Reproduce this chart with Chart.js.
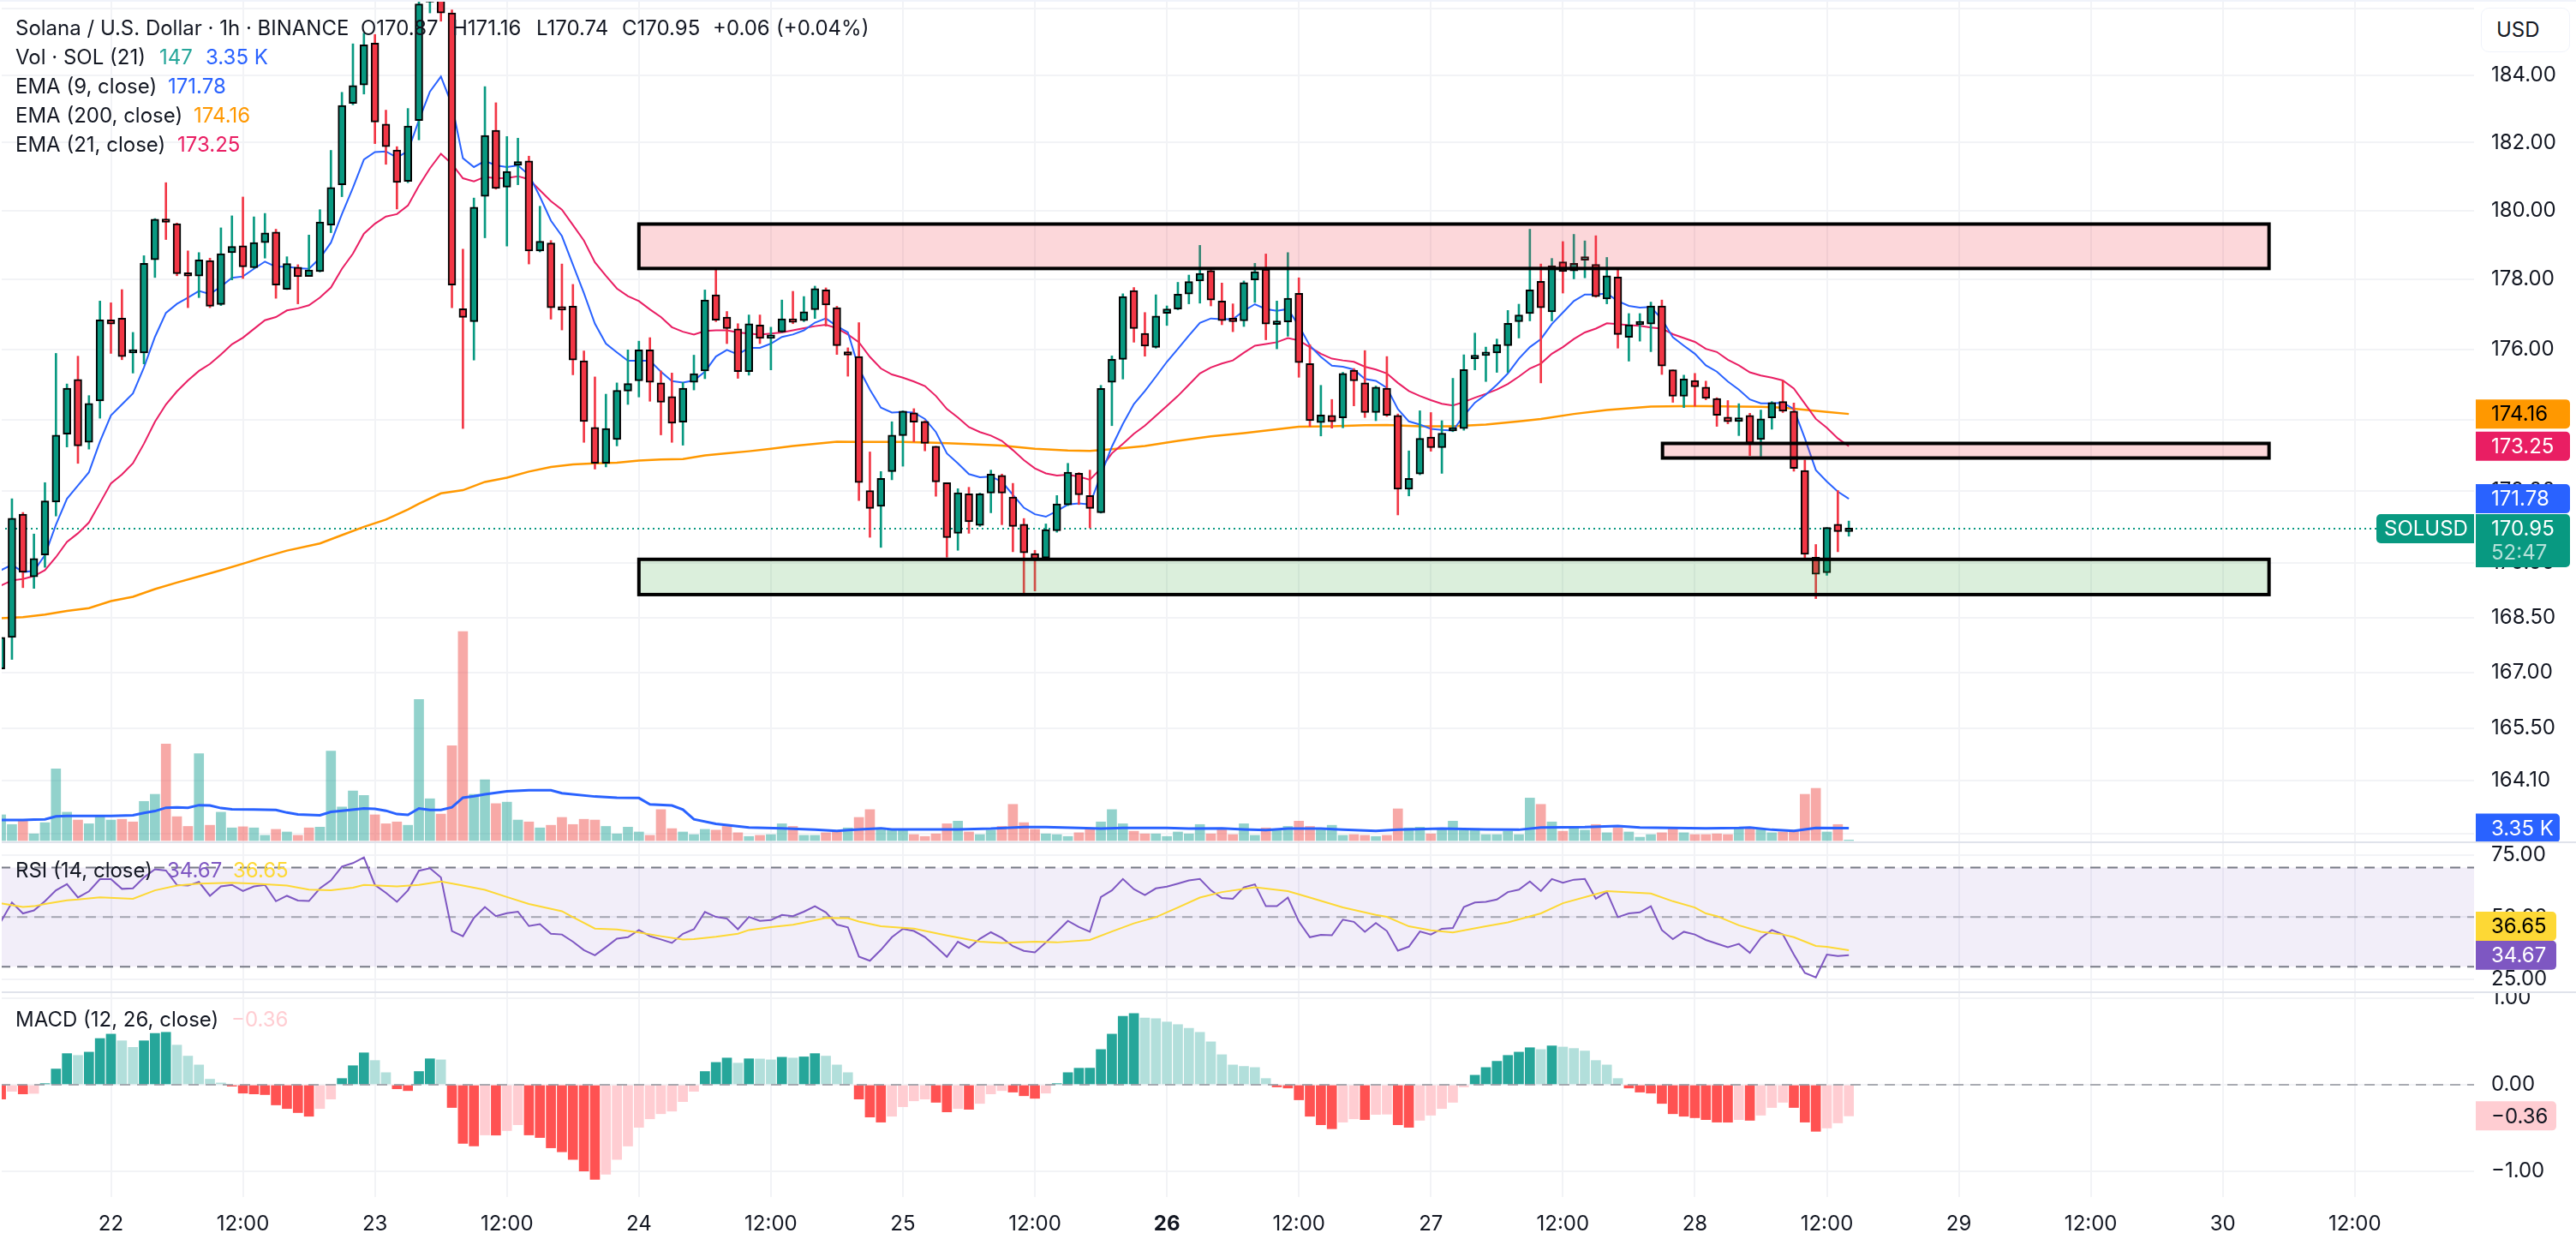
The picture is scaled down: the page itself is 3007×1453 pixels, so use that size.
<!DOCTYPE html>
<html>
<head>
<meta charset="utf-8">
<title>SOLUSD 1h</title>
<script src="https://cdn.jsdelivr.net/npm/chart.js@4/dist/chart.umd.min.js"></script>
<style>
	html, body { margin: 0; padding: 0; background: #fff; overflow: hidden; }
	#page { position: relative; width: 3007px; height: 1453px; font-family: Inter, sans-serif; color: #131722; }
	canvas { position: absolute; left: 0; display: block; }
	.sep { position: absolute; left: 0; width: 3007px; height: 2px; background: #e0e3eb; }
	.lbl { position: absolute; white-space: nowrap; font-size: 24px; line-height: 30px; transform: translateY(-50%); z-index: 5; }
	#usd { position: absolute; left: 2896px; top: 9px; width: 104px; height: 52px; box-sizing: border-box; border: 1.5px solid #f0f3fa; border-radius: 9px; background: #fff; font-size: 24px; line-height: 49px; padding-left: 17px; z-index: 5; }
	#edge { position: absolute; left: 0; top: 0; width: 2px; height: 1397px; background: #fff; z-index: 4; }
	#topline { position: absolute; left: 0; top: 0; width: 3007px; height: 2px; background: #f0f3fa; z-index: 4; }
</style>
</head>
<body>
<div id="page">
	<canvas id="priceChart" width="3007" height="982" style="top:0"></canvas>
	<div class="sep" style="top:982px"></div>
	<canvas id="rsiChart" width="3007" height="173" style="top:984px"></canvas>
	<div class="sep" style="top:1157px"></div>
	<canvas id="macdChart" width="3007" height="294" style="top:1159px"></canvas>
	<div id="edge"></div>
	<div id="topline"></div>
	<div id="usd">USD</div>
</div>
<script>
// hours are counted from 22 00:00, candles run one per hour from firstHour
var firstHour = -10;

var candleOpen = [
	167.10,167.96,171.35,169.62,170.22,171.69,173.59,175.14,173.36,174.53,
	176.84,176.89,175.89,175.89,178.57,179.68,179.62,178.18,178.10,178.55,
	177.28,178.78,178.98,178.34,179.07,179.38,177.72,178.36,178.09,178.23,
	179.58,180.76,183.16,183.71,184.96,182.55,181.78,180.86,182.65,186.20,
	186.40,185.87,177.16,176.79,180.42,182.36,180.69,181.33,181.46,178.83,
	179.06,177.14,177.23,175.67,173.78,172.77,173.44,174.81,175.10,175.98,
	175.04,174.65,173.93,175.06,175.38,177.56,176.92,176.58,175.36,176.69,
	176.31,176.49,176.83,176.82,177.13,177.70,177.19,175.85,
	175.79,172.01,171.57,172.54,173.55,174.19,173.95,173.25,172.23,170.82,
	171.92,171.04,171.94,172.43,171.83,171.07,170.26,170.14,170.89,171.61,
	172.49,171.87,171.39,175.06,175.71,177.68,176.45,176.05,177.03,177.15,
	177.58,177.96,178.26,177.38,176.85,176.81,177.99,178.30,176.71,176.78,
	177.60,175.59,173.92,174.12,174.05,175.40,175.04,174.20,174.89,174.12,
	172.05,172.47,173.51,173.21,173.68,173.75,175.73,175.82,175.89,176.10,
	176.79,177.02,177.95,177.07,178.51,178.25,178.56,178.44,177.44,178.07,
	176.34,176.70,176.72,177.24,175.41,174.66,175.11,174.92,
	174.60,174.07,173.95,174.12,173.44,174.05,174.51,174.24,172.57,170.16,169.73,171.07,170.87
];
var candleHigh = [
	167.96,171.78,171.40,170.80,172.23,175.88,175.01,175.80,174.68,177.38,
	177.33,177.71,176.48,178.69,179.77,180.82,179.64,178.83,178.78,178.62,
	179.50,179.85,180.40,179.82,179.92,179.46,178.66,178.43,179.29,180.03,
	181.77,183.49,184.94,185.26,185.22,182.96,181.88,183.01,186.30,186.30,
	186.50,185.96,178.88,180.37,183.66,183.18,182.18,182.13,181.60,180.13,
	179.13,178.45,177.86,175.95,175.21,174.72,175.04,175.98,176.23,176.33,
	175.38,175.32,175.05,175.83,177.70,178.32,177.08,176.73,176.98,176.98,
	176.63,177.41,177.66,177.51,177.81,177.76,177.23,176.04,
	176.76,173.09,172.54,173.94,174.25,174.31,173.97,173.25,172.23,172.06,
	172.10,171.94,172.58,172.47,172.21,171.23,170.35,171.08,171.87,172.77,
	172.51,172.58,174.97,175.81,177.59,177.77,177.05,177.56,177.24,177.92,
	178.13,178.99,178.32,177.90,177.30,177.96,178.47,178.74,177.38,178.78,
	178.05,176.13,174.97,174.57,175.34,175.45,175.96,174.95,175.79,174.16,
	173.12,174.25,174.20,173.97,175.17,175.84,176.46,176.06,176.29,177.11,
	177.29,179.46,178.45,178.61,179.10,179.31,179.12,179.27,178.64,178.33,
	177.02,177.02,177.35,177.41,175.41,175.26,175.31,175.09,
	174.62,174.54,174.45,174.18,174.27,174.51,175.10,174.47,172.86,170.51,170.98,172.01,171.16
];
var candleLow = [
	167.10,167.36,169.32,169.30,169.88,171.30,173.23,172.77,173.17,174.04,
	175.88,175.70,175.32,175.58,178.06,179.16,178.11,177.19,177.48,177.19,
	177.25,177.99,178.03,178.32,178.62,177.46,177.71,177.30,178.09,178.22,
	179.36,180.41,183.12,183.44,181.97,181.36,180.05,180.82,182.08,185.87,
	185.62,177.19,173.75,175.69,179.21,180.63,178.97,180.76,178.45,178.80,
	176.86,176.55,175.27,173.36,172.61,172.67,173.26,174.43,174.64,174.52,
	173.57,173.36,173.28,174.84,175.16,176.79,176.16,175.17,175.26,176.16,
	175.41,176.48,176.73,176.79,176.88,176.66,175.85,175.23,
	171.73,170.71,170.43,172.31,172.69,173.38,173.12,171.85,170.16,170.35,
	170.82,171.01,171.39,171.06,170.31,169.18,169.23,170.11,170.85,171.59,
	171.62,170.97,171.38,173.83,175.15,176.20,175.80,176.03,176.68,177.13,
	177.30,177.32,177.24,176.70,176.50,176.65,177.34,176.27,176.01,176.37,
	175.20,173.81,173.54,173.76,173.77,174.39,174.06,173.97,174.09,171.33,
	171.86,172.45,173.11,172.49,173.66,173.70,175.41,175.08,175.34,175.34,
	176.32,176.81,175.04,176.81,177.61,178.02,178.05,177.49,177.30,176.03,
	175.66,176.23,175.93,175.28,174.49,174.34,174.38,174.56,
	173.81,173.88,173.55,172.99,172.97,173.73,174.20,172.55,170.14,169.02,169.66,170.31,170.74
];
var candleClose = [
	167.96,171.24,169.74,170.12,171.72,173.56,174.89,173.26,174.46,176.84,
	176.72,175.79,175.90,178.47,179.75,179.66,178.17,178.10,178.57,177.23,
	178.75,178.96,178.37,179.07,179.35,177.84,178.46,178.08,178.28,179.67,
	180.68,183.10,183.69,184.91,182.61,181.88,180.83,182.49,186.14,186.22,
	185.87,177.84,176.91,180.10,182.21,180.65,181.15,181.44,178.83,179.11,
	177.19,177.12,175.69,173.95,172.77,173.75,174.83,175.02,175.98,175.06,
	174.49,173.90,174.89,175.30,177.41,176.83,176.59,175.36,176.73,176.31,
	176.34,176.87,176.77,177.07,177.74,177.27,176.10,175.83,
	172.23,171.51,172.35,173.56,174.24,173.93,173.33,172.25,170.70,171.95,
	171.14,171.92,172.47,171.94,171.01,170.28,170.11,170.92,171.64,172.52,
	171.89,171.51,174.88,175.71,177.51,176.59,176.09,176.95,177.15,177.58,
	177.94,178.18,177.41,176.82,176.79,177.91,178.23,176.72,176.72,177.46,
	175.62,173.97,174.13,173.94,175.31,175.10,174.20,174.92,174.12,172.05,
	172.35,173.47,173.21,173.62,173.69,175.42,175.75,175.85,176.13,176.74,
	176.98,177.70,177.19,178.40,178.23,178.47,178.58,177.51,178.11,176.42,
	176.70,176.78,177.24,175.52,174.66,175.15,174.93,174.60,
	174.12,173.94,174.05,173.34,174.02,174.48,174.24,172.63,170.24,169.69,170.98,170.87,170.95
];

// volume in thousands, one bar per candle
var volume = [
	6.9,4.3,5.2,1.8,4.8,19.2,7.6,5.5,4.5,6.7,
	5.5,5.7,5.0,10.5,12.4,25.9,6.4,3.8,23.3,4.1,
	7.6,3.4,3.7,3.4,1.4,3.0,2.3,1.4,3.4,3.6,
	24.0,9.0,13.3,12.1,6.9,4.5,5.0,4.1,37.8,11.2,
	7.1,25.4,56.0,12.4,16.3,9.9,10.3,5.5,5.0,3.4,
	4.1,6.2,4.3,5.7,5.5,3.8,1.8,3.6,2.3,1.4,
	8.3,3.2,2.3,1.6,3.0,2.8,3.8,2.1,1.1,1.4,
	1.6,4.5,3.8,1.4,1.4,2.1,2.3,3.4,
	6.2,8.3,3.4,3.0,3.0,1.6,1.1,1.8,4.5,5.2,
	2.3,1.6,2.8,3.8,9.7,4.8,3.0,1.8,1.6,1.1,
	2.1,3.0,5.0,8.3,4.5,2.5,1.8,1.8,1.1,2.3,
	1.8,4.3,1.8,3.2,1.6,4.5,1.4,3.4,3.0,3.8,
	5.2,3.8,3.2,4.1,1.4,1.6,1.4,1.1,1.4,8.5,
	3.4,3.6,1.8,3.2,5.2,2.8,3.2,1.6,1.6,2.5,
	1.6,11.4,9.7,5.0,2.5,3.4,2.8,4.3,2.1,3.4,
	2.3,0.9,1.6,2.1,3.4,2.1,1.6,1.6,
	1.8,1.6,3.4,3.6,3.0,2.1,2.3,2.8,12.4,14.0,2.3,4.3,0.147
];
var volumeUp = [
	1,1,0,1,1,1,1,0,1,1, 1,0,0,1,1,0,0,0,1,0, 1,1,0,1,1,0,1,0,0,1,
	1,1,1,1,0,0,0,1,1,1, 0,0,0,1,1,0,1,1,0,1, 0,0,0,0,0,1,1,1,1,0,
	0,0,1,1,1,0,0,0,1,0, 1,1,0,1,1,0,0,1,0,0, 1,1,1,0,0,0,0,1,0,1,
	1,0,0,0,0,1,1,1,0,0, 1,1,1,0,0,1,1,1,1,1, 0,0,0,1,1,0,1,1,0,0,
	1,1,1,0,0,1,0,0,1,1, 0,1,1,1,1,1,1,1,1,1, 0,1,0,1,1,0,1,0,1,1,
	1,0,0,1,0,0,0,0,1,0, 1,1,0,0,0,0,1,0,1
];
var volumeMaHours = [
	-10,-8,-7,-6,-5,-4,-2,0,2,3,4,5,6,7,8,9,10,11,13,15,16,17,19,20,21,23,24,25,26,27,
	28,29,30,31,32,33,34,36,38,40,41,44,46,48,49,51,52,53,55,58,61,64,66,67,
	68,70,71,74,77,80,83,85,88,90,92,96,98,101,103,105,107,110,112,115,117,121,125,128,
	130,134,137,139,142,145,148,149,151,153,155,158
];
var volumeMaValues = [
	5.5,5.5,5.6,5.7,6.5,6.6,6.6,6.6,6.8,7.4,7.9,8.8,8.9,8.8,9.5,9.4,8.7,8.4,8.3,8.2,7.5,7.0,6.8,7.7,8.0,8.6,8.5,8.0,7.1,6.9,
	8.6,8.2,8.2,8.9,11.5,11.9,12.4,13.2,13.5,13.5,12.7,11.8,11.5,11.4,9.7,9.4,8.3,5.7,4.5,3.5,3.3,2.9,2.6,2.8,
	3.0,3.3,3.0,3.0,3.0,3.2,3.6,3.6,3.4,3.2,3.4,3.4,3.2,3.3,3.0,2.8,3.2,3.2,2.9,2.6,2.9,3.2,3.0,2.9,
	3.5,3.6,3.9,3.5,3.4,3.3,3.4,3.5,2.9,2.6,3.4,3.35
];

var ema9 = [
	169.80,169.95,169.75,169.78,170.22,171.06,171.78,172.15,172.52,173.38,
	174.12,174.43,174.74,175.48,176.35,177.04,177.30,177.48,177.67,177.58,
	177.80,178.05,178.09,178.31,178.52,178.37,178.37,178.33,178.31,178.62,
	179.07,179.90,180.67,181.50,181.72,181.74,181.56,181.75,182.66,183.51,
	183.96,183.12,181.54,181.28,181.46,181.33,181.28,181.33,181.05,180.41,
	179.71,179.26,178.43,177.61,176.73,176.16,175.91,175.67,175.67,175.67,
	175.36,175.09,175.05,175.11,175.36,175.79,175.98,175.85,176.04,176.04,
	176.16,176.35,176.42,176.54,176.76,176.88,176.66,176.48,
	175.45,174.85,174.34,174.20,174.22,174.20,174.02,173.65,173.05,172.77,
	172.47,172.38,172.40,172.26,171.89,171.53,171.35,171.28,171.44,171.62,
	171.65,171.62,172.45,173.24,173.88,174.44,174.81,175.22,175.64,176.01,
	176.39,176.75,176.88,176.86,176.86,177.10,177.29,177.15,177.10,177.15,
	176.67,176.10,175.78,175.53,175.50,175.42,175.15,175.10,174.90,174.30,
	173.95,173.86,173.74,173.71,173.69,174.11,174.48,174.71,174.99,175.31,
	175.73,176.06,176.29,176.72,177.05,177.38,177.57,177.57,177.60,177.38,
	177.24,177.19,177.21,176.86,176.34,176.10,175.87,175.54,
	175.36,175.08,174.85,174.57,174.46,174.46,174.48,174.30,173.47,172.58,172.26,171.98,171.78
];
var ema21 = [
	169.38,169.52,169.56,169.64,169.80,170.16,170.58,170.82,171.12,171.66,
	172.21,172.46,172.77,173.32,173.94,174.43,174.80,175.11,175.38,175.58,
	175.85,176.14,176.33,176.58,176.83,176.92,177.11,177.17,177.26,177.48,
	177.77,178.31,178.75,179.33,179.62,179.83,179.90,180.15,180.73,181.24,
	181.67,181.37,180.95,180.86,180.99,180.95,180.96,181.01,180.92,180.60,
	180.28,180.03,179.58,179.13,178.50,178.11,177.74,177.52,177.38,177.14,
	176.92,176.63,176.50,176.42,176.52,176.54,176.54,176.48,176.45,176.42,
	176.45,176.48,176.54,176.60,176.66,176.70,176.60,176.42,
	176.20,175.78,175.45,175.28,175.19,175.08,174.95,174.67,174.30,174.06,
	173.79,173.65,173.55,173.40,173.14,172.86,172.63,172.49,172.43,172.45,
	172.40,172.31,172.63,173.05,173.32,173.60,173.83,174.11,174.39,174.67,
	174.99,175.31,175.48,175.59,175.68,175.90,176.10,176.15,176.20,176.32,
	176.25,176.06,175.87,175.73,175.68,175.64,175.50,175.42,175.31,175.04,
	174.81,174.67,174.55,174.45,174.40,174.50,174.62,174.73,174.85,175.01,
	175.22,175.45,175.59,175.87,176.06,176.29,176.48,176.59,176.74,176.72,
	176.69,176.67,176.62,176.59,176.43,176.32,176.21,176.01,
	175.92,175.70,175.54,175.34,175.25,175.19,175.11,174.88,174.45,174.02,173.77,173.47,173.25
];
var ema200Hours = [
	-10,-8,-6,-4,-2,0,2,4,6,8,10,12,14,16,19,21,23,25,27,28,30,32,34,36,38,40,42,44,46,48,
	50,52,54,56,58,60,62,64,66,68,72,75,78,81,84,87,89,91,94,97,100,103,106,108,111,114,116,
	119,122,125,128,130,133,136,140,143,145,148,150,152,154,156,158
];
var ema200Values = [
	168.48,168.51,168.58,168.68,168.76,168.95,169.07,169.28,169.46,169.63,169.80,169.98,170.17,170.34,170.54,
	170.77,171.00,171.20,171.48,171.64,171.93,172.02,172.25,172.37,172.54,172.67,172.74,172.77,172.79,172.85,
	172.88,172.89,172.99,173.05,173.11,173.18,173.26,173.32,173.38,173.37,173.37,173.35,173.31,173.27,173.18,
	173.13,173.12,173.17,173.26,173.40,173.53,173.62,173.73,173.80,173.81,173.84,173.85,173.81,173.81,173.86,
	173.95,174.02,174.16,174.27,174.37,174.38,174.38,174.37,174.36,174.34,174.28,174.22,174.16
];

var rsiValues = [
	48.2,55.9,51.5,52.7,56.4,60.8,63.3,57.9,60.4,65.3,
	65.3,61.4,61.6,66.0,69.3,68.8,63.0,62.7,64.2,58.6,
	62.4,63.0,60.5,62.4,63.0,56.4,58.6,56.7,56.5,61.6,
	64.8,70.4,71.8,74.1,63.0,59.8,56.2,60.8,68.7,69.7,
	66.0,44.4,42.3,49.7,54.1,50.4,51.6,52.2,46.4,47.2,
	43.3,43.0,40.1,36.7,34.6,37.9,41.3,41.9,44.8,42.3,
	41.0,39.6,43.3,45.1,52.1,50.1,49.4,45.1,50.1,48.5,
	48.8,50.9,50.4,52.2,54.4,51.9,47.0,45.9,
	34.1,32.4,36.8,41.9,45.3,44.4,42.0,38.1,34.0,40.1,
	37.6,41.3,43.9,41.6,38.3,36.4,35.8,39.8,44.1,48.5,
	46.0,44.1,58.1,60.8,65.4,61.3,58.9,61.6,62.3,63.5,
	64.8,65.4,60.8,57.7,57.4,62.0,63.2,54.4,54.4,57.9,
	48.2,41.9,42.9,42.7,49.0,48.1,44.1,47.6,44.4,36.5,
	38.1,44.2,43.0,45.3,45.6,54.1,55.9,56.2,57.1,60.1,
	61.1,64.4,60.5,65.4,63.9,65.1,65.4,57.4,60.1,50.0,
	51.5,51.9,54.4,44.8,41.1,44.1,43.0,40.8,
	39.3,37.9,39.2,35.6,41.6,44.8,43.0,34.9,27.5,25.7,34.9,34.3,34.67
];
var rsiMaHours = [
	-10,-8,-7,-6,-4,-3,-1,2,4,6,8,11,13,16,18,20,22,23,26,28,30,32,34,36,38,41,42,44,46,48,
	50,52,53,55,57,58,60,62,63,65,67,
	68,70,73,76,79,81,84,86,89,91,93,95,97,99,101,104,107,109,112,115,116,118,120,122,125,127,
	130,132,135,136,140,142,144,145,146,148,150,152,153,155,156,158
];
var rsiMaValues = [
	55.6,54.1,54.4,55.3,56.8,57.1,58.0,57.4,60.8,62.7,63.5,63.9,63.5,62.7,61.1,60.8,61.9,63.0,62.4,63.0,
	64.4,62.7,61.0,58.1,55.3,52.4,50.0,45.4,45.0,43.8,42.3,41.0,41.1,42.1,43.3,44.8,46.0,46.9,47.8,49.7,49.6,
	48.2,46.3,45.4,42.6,40.1,39.6,40.1,39.8,40.8,44.2,47.5,50.0,53.9,57.9,60.1,62.0,60.5,57.9,53.9,50.9,50.1,
	46.3,44.7,43.8,46.3,47.9,51.5,55.6,59.3,60.5,59.5,56.4,53.9,51.5,50.4,46.7,44.1,43.0,41.9,38.4,38.0,36.65
];

var macdHist = [
	-0.165,-0.076,-0.106,-0.100,0.013,0.182,0.360,0.339,0.377,0.534,
	0.585,0.508,0.432,0.508,0.593,0.606,0.458,0.331,0.229,0.064,
	0.021,-0.017,-0.097,-0.106,-0.114,-0.233,-0.275,-0.322,-0.364,-0.275,
	-0.165,0.072,0.220,0.369,0.280,0.140,-0.047,-0.068,0.153,0.300,
	0.288,-0.263,-0.678,-0.708,-0.580,-0.582,-0.530,-0.462,-0.580,-0.610,
	-0.729,-0.775,-0.864,-0.996,-1.093,-1.034,-0.864,-0.708,-0.492,-0.394,
	-0.335,-0.305,-0.195,-0.076,0.153,0.258,0.309,0.250,0.300,0.298,
	0.288,0.318,0.309,0.322,0.360,0.331,0.229,0.140,
	-0.165,-0.373,-0.432,-0.364,-0.254,-0.186,-0.165,-0.203,-0.314,-0.275,
	-0.284,-0.216,-0.106,-0.068,-0.085,-0.127,-0.157,-0.097,0.013,0.140,
	0.191,0.192,0.407,0.585,0.792,0.822,0.771,0.763,0.725,0.695,
	0.653,0.606,0.496,0.347,0.229,0.212,0.199,0.072,-0.025,-0.038,
	-0.174,-0.364,-0.462,-0.508,-0.432,-0.394,-0.403,-0.343,-0.340,-0.462,
	-0.492,-0.411,-0.352,-0.275,-0.203,-0.025,0.110,0.199,0.271,0.339,
	0.377,0.428,0.407,0.449,0.436,0.419,0.390,0.280,0.229,0.072,
	-0.038,-0.085,-0.097,-0.216,-0.335,-0.364,-0.381,-0.403,
	-0.432,-0.433,-0.403,-0.411,-0.352,-0.263,-0.203,-0.263,-0.432,-0.538,-0.500,-0.441,-0.360
];

var timeTickHours = [0,12,24,36,48,60,72,84,96,108,120,132,144,156,168,180,192,204];
var timeTickLabels = ['22','12:00','23','12:00','24','12:00','25','12:00','26','12:00','27','12:00','28','12:00','29','12:00','30','12:00'];
// the outermost two carry a grid line only, their labels sit under the USD box and the volume tag
var priceTicks = [186,184,182,180,178,176,174,172,170,168.5,167,165.5,164.1,162.7];
var priceTicksNoLabel = [186,162.7];
var rsiTicks = [75,50,25];
var macdTicks = [1,0,-1];
var rsiBand = [30,70];
var rsiLevels = [70,50,30];

var zoneStartHours = [48,141.06,48];
var zoneEndHours = [196.2,196.2,196.2];
var zoneTops = [179.61,173.33,170.10];
var zoneBottoms = [178.32,172.92,169.13];
var zoneFills = ['rgba(242,54,69,0.2)','rgba(242,54,69,0.2)','rgba(76,175,80,0.2)'];

var lastClose = 170.95;
var xMin = -10.086;
var xMax = 214.84;
var FONT = 'Inter, sans-serif';
var GRID = '#f2f3f6';

var UP = '#089981';
var DOWN = '#f23645';

function points( hours, values ) {
	var out = [];
	for ( var i = 0; i < values.length; i++ ) {
		out.push( { x: hours ? hours[ i ] : firstHour + i, y: values[ i ] } );
	}
	return out;
}

function lineSet( data, color, width, yAxisID, order ) {
	return {
		type: 'line',
		data: data,
		borderColor: color,
		borderWidth: width,
		pointRadius: 0,
		tension: 0,
		yAxisID: yAxisID,
		order: order
	};
}

// chart.js pads axes for their outer tick labels, the panes must fill the canvas
function clearPadding( axis ) {
	axis.paddingTop = 0;
	axis.paddingBottom = 0;
	axis.paddingLeft = 0;
	axis.paddingRight = 0;
}

function xAxis( showLabels ) {
	return {
		type: 'linear',
		min: xMin,
		max: xMax,
		offset: false,
		border: { display: false },
		grid: { color: GRID, lineWidth: 2, drawTicks: false, offset: false },
		afterBuildTicks: function ( axis ) {
			axis.ticks = timeTickHours.map( function ( h ) { return { value: h }; } );
		},
		afterFit: function ( axis ) {
			axis.height = showLabels ? 56 : 0;
			clearPadding( axis );
		},
		ticks: {
			display: showLabels,
			autoSkip: false,
			maxRotation: 0,
			padding: 17,
			color: '#131722',
			font: function ( ctx ) {
				return { family: FONT, size: 24, weight: timeTickLabels[ ctx.index ] === '26' ? 'bold' : 'normal' };
			},
			callback: function ( v, i ) { return timeTickLabels[ i ]; }
		}
	};
}

function yAxis( type, min, max, tickValues, fmt ) {
	return {
		type: type,
		position: 'right',
		min: min,
		max: max,
		border: { display: false },
		grid: { color: GRID, lineWidth: 2, drawTicks: false },
		afterBuildTicks: function ( axis ) {
			axis.ticks = tickValues.map( function ( v ) { return { value: v }; } );
		},
		afterFit: function ( axis ) {
			axis.width = 119;
			clearPadding( axis );
		},
		ticks: {
			autoSkip: false,
			padding: 20,
			color: '#131722',
			font: { family: FONT, size: 24 },
			callback: fmt
		}
	};
}

function fmt2( v ) {
	return v.toFixed( 2 ).replace( '-', '\u2212' );
}

function fmtPrice( v ) {
	return priceTicksNoLabel.indexOf( v ) !== -1 ? '' : fmt2( v );
}

function drawTag( ctx, tag, yCenter ) {
	var left  = tag.left || 2890;
	var h     = tag.height || 34;
	var top   = yCenter - 17 + ( tag.shift || 0 );
	ctx.save();
	ctx.fillStyle = tag.bg;
	ctx.beginPath();
	ctx.roundRect( left, top, tag.width, h, tag.radius || [ 0, 5, 5, 0 ] );
	ctx.fill();
	ctx.font = '24px ' + FONT;
	ctx.textBaseline = 'middle';
	ctx.fillStyle = tag.color;
	ctx.fillText( tag.text, tag.textX || 2908, top + 18 );
	if ( tag.sub ) {
		ctx.fillStyle = 'rgba(255,255,255,0.7)';
		ctx.fillText( tag.sub, tag.textX || 2908, top + 46 );
	}
	ctx.restore();
}

function tagsPlugin( tags, axisId ) {
	return {
		id: 'tags',
		afterDraw: function ( chart ) {
			tags.forEach( function ( tag ) {
				drawTag( chart.ctx, tag, chart.scales[ tag.axis || axisId ].getPixelForValue( tag.value ) );
			} );
		}
	};
}

var zonesPlugin = {
	id: 'zones',
	afterDatasetsDraw: function ( chart ) {
		var ctx = chart.ctx;
		var x = chart.scales.x;
		var y = chart.scales.y;
		ctx.save();
		for ( var i = 0; i < zoneTops.length; i++ ) {
			var left  = x.getPixelForValue( zoneStartHours[ i ] );
			var right = x.getPixelForValue( zoneEndHours[ i ] );
			var top   = y.getPixelForValue( zoneTops[ i ] );
			var bot   = y.getPixelForValue( zoneBottoms[ i ] );
			ctx.fillStyle = zoneFills[ i ];
			ctx.fillRect( left, top, right - left, bot - top );
			ctx.strokeStyle = '#000';
			ctx.lineWidth = 4;
			ctx.strokeRect( left, top, right - left, bot - top );
		}
		ctx.restore();
	}
};

function dashedLine( chart, value, color ) {
	var ctx = chart.ctx;
	var area = chart.chartArea;
	var y = chart.scales.y.getPixelForValue( value );
	ctx.save();
	ctx.strokeStyle = color;
	ctx.lineWidth = 2;
	ctx.setLineDash( [ 12, 8 ] );
	ctx.beginPath();
	ctx.moveTo( area.left, y );
	ctx.lineTo( area.right, y );
	ctx.stroke();
	ctx.restore();
}

var rsiBackdrop = {
	id: 'rsiBackdrop',
	beforeDatasetsDraw: function ( chart ) {
		var ctx = chart.ctx;
		var area = chart.chartArea;
		var y = chart.scales.y;
		var top = y.getPixelForValue( rsiBand[ 1 ] );
		var bot = y.getPixelForValue( rsiBand[ 0 ] );
		ctx.save();
		ctx.fillStyle = 'rgba(126,87,194,0.1)';
		ctx.fillRect( area.left, top, area.right - area.left, bot - top );
		ctx.restore();
		rsiLevels.forEach( function ( level ) {
			dashedLine( chart, level, level === 50 ? 'rgba(120,123,134,0.6)' : '#787b86' );
		} );
	}
};

var macdZero = {
	id: 'macdZero',
	afterDatasetsDraw: function ( chart ) {
		dashedLine( chart, 0, 'rgba(120,123,134,0.6)' );
	}
};

var baseOptions = function ( scales ) {
	return {
		responsive: false,
		maintainAspectRatio: false,
		devicePixelRatio: 1,
		animation: false,
		layout: { padding: 0 },
		plugins: { legend: { display: false }, tooltip: { enabled: false } },
		scales: scales
	};
};

// candles are two floating bars each, wick behind and bordered body on top
var wickBars = [];
var bodyBars = [];
var wickColors = [];
var bodyColors = [];
var volumeBars = [];
var volumeColors = [];
for ( var i = 0; i < candleClose.length; i++ ) {
	var hour = firstHour + i;
	var o = candleOpen[ i ];
	var c = candleClose[ i ];
	var color = c >= o ? UP : DOWN;
	wickBars.push( { x: hour, y: [ candleLow[ i ], candleHigh[ i ] ] } );
	bodyBars.push( { x: hour, y: [ Math.min( o, c ), Math.max( o, c ) ] } );
	wickColors.push( color );
	bodyColors.push( color );
	volumeBars.push( { x: hour, y: volume[ i ] } );
	volumeColors.push( volumeUp[ i ] ? 'rgba(38,166,154,0.5)' : 'rgba(239,83,80,0.5)' );
}

var priceTags = [
	{ value: 174.16, text: '174.16', bg: '#ff9800', color: '#000', width: 110 },
	{ value: 173.25, text: '173.25', bg: '#e91e63', color: '#fff', width: 110 },
	{ value: 171.78, text: '171.78', bg: '#2962ff', color: '#fff', width: 110 },
	{ value: 170.95, text: 'SOLUSD', bg: UP, color: '#fff', width: 114, left: 2774, textX: 2783, radius: [ 5, 0, 0, 5 ] },
	{ value: 170.95, text: '170.95', sub: '52:47', bg: UP, color: '#fff', width: 110, height: 62 },
	{ value: 3.35, axis: 'vol', text: '3.35 K', bg: '#2962ff', color: '#fff', width: 98 }
];

new Chart( document.getElementById( 'priceChart' ), {
	data: {
		datasets: [
			{
				type: 'bar',
				data: bodyBars,
				backgroundColor: bodyColors,
				borderColor: '#000',
				borderWidth: 2,
				borderSkipped: false,
				barThickness: 9,
				minBarLength: 4,
				grouped: false,
				yAxisID: 'y',
				order: 1
			},
			{
				type: 'bar',
				data: wickBars,
				backgroundColor: wickColors,
				barThickness: 2,
				grouped: false,
				yAxisID: 'y',
				order: 2
			},
			lineSet( points( null, ema9 ), '#2962ff', 2, 'y', 3 ),
			lineSet( points( null, ema21 ), '#e91e63', 2, 'y', 3 ),
			lineSet( points( ema200Hours, ema200Values ), '#ff9800', 2.5, 'y', 3 ),
			Object.assign( lineSet( [ { x: xMin, y: lastClose }, { x: xMax, y: lastClose } ], UP, 2, 'y', 4 ), { borderDash: [ 2, 4 ] } ),
			lineSet( points( volumeMaHours, volumeMaValues ), '#2962ff', 3, 'vol', 4 ),
			{
				type: 'bar',
				data: volumeBars,
				backgroundColor: volumeColors,
				barThickness: 11,
				grouped: false,
				yAxisID: 'vol',
				order: 5
			}
		]
	},
	options: baseOptions( {
		x: xAxis( false ),
		y: yAxis( 'logarithmic', 162.49, 186.26, priceTicks, fmtPrice ),
		vol: { display: false, min: -0.23, max: 225.3 }
	} ),
	plugins: [ zonesPlugin, tagsPlugin( priceTags, 'y' ) ]
} );

new Chart( document.getElementById( 'rsiChart' ), {
	data: {
		datasets: [
			lineSet( points( rsiMaHours, rsiMaValues ), '#fdd835', 2, 'y', 1 ),
			lineSet( points( null, rsiValues ), '#7e57c2', 2, 'y', 2 )
		]
	},
	options: baseOptions( {
		x: xAxis( false ),
		y: yAxis( 'linear', 20.06, 79.84, rsiTicks, fmt2 )
	} ),
	plugins: [ rsiBackdrop, tagsPlugin( [
		{ value: 34.67, text: '34.67', bg: '#7e57c2', color: '#fff', width: 94 },
		{ value: 36.65, text: '36.65', bg: '#fdd835', color: '#000', width: 94, shift: -28 }
	], 'y' ) ]
} );

// histogram shade follows whether the bar grew or shrank against the one before
var macdBars = [];
var macdColors = [];
for ( var m = 0; m < macdHist.length; m++ ) {
	var v = macdHist[ m ];
	var prev = m > 0 ? macdHist[ m - 1 ] : 0;
	macdBars.push( { x: firstHour + m, y: v } );
	if ( v >= 0 ) {
		macdColors.push( v >= prev ? '#26a69a' : '#b2dfdb' );
	} else {
		macdColors.push( v < prev ? '#ff5252' : '#ffcdd2' );
	}
}

new Chart( document.getElementById( 'macdChart' ), {
	data: {
		datasets: [ {
			type: 'bar',
			data: macdBars,
			backgroundColor: macdColors,
			barThickness: 11,
			yAxisID: 'y'
		} ]
	},
	options: baseOptions( {
		x: xAxis( true ),
		y: yAxis( 'linear', -1.297, 1.059, macdTicks, fmt2 )
	} ),
	plugins: [ macdZero, tagsPlugin( [
		{ value: -0.36, text: '\u22120.36', bg: '#ffcdd2', color: '#131722', width: 94 }
	], 'y' ) ]
} );

// legend text over the panes
var legendItems = [
	[ 'Solana / U.S. Dollar \u00b7 1h \u00b7 BINANCE', 18, 33, '#131722' ],
	[ 'O170.87', 421, 33, '#131722' ],
	[ 'H171.16', 528, 33, '#131722' ],
	[ 'L170.74', 626, 33, '#131722' ],
	[ 'C170.95', 726, 33, '#131722' ],
	[ '+0.06', 832, 33, '#131722' ],
	[ '(+0.04%)', 906, 33, '#131722' ],
	[ 'Vol \u00b7 SOL (21)', 18, 67, '#131722' ],
	[ '147', 186, 67, '#26a69a' ],
	[ '3.35 K', 240, 67, '#2962ff' ],
	[ 'EMA (9, close)', 18, 101, '#131722' ],
	[ '171.78', 196, 101, '#2962ff' ],
	[ 'EMA (200, close)', 18, 135, '#131722' ],
	[ '174.16', 226, 135, '#ff9800' ],
	[ 'EMA (21, close)', 18, 169, '#131722' ],
	[ '173.25', 207, 169, '#e91e63' ],
	[ 'RSI (14, close)', 18, 1016, '#131722' ],
	[ '34.67', 195, 1016, '#7e57c2' ],
	[ '36.65', 272, 1016, '#fdd835' ],
	[ 'MACD (12, 26, close)', 18, 1190, '#131722' ],
	[ '\u22120.36', 270, 1190, '#ffcdd2' ]
];
var page = document.getElementById( 'page' );
legendItems.forEach( function ( item ) {
	var el = document.createElement( 'div' );
	el.className = 'lbl';
	el.textContent = item[ 0 ];
	el.style.left = item[ 1 ] + 'px';
	el.style.top = item[ 2 ] + 'px';
	el.style.color = item[ 3 ];
	page.appendChild( el );
} );
</script>
</body>
</html>
